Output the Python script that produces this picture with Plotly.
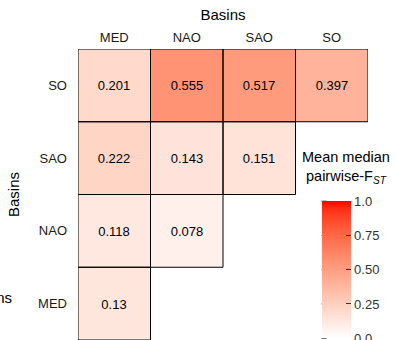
import plotly.graph_objects as go

basins = ["MED", "NAO", "SAO", "SO"]
row_MED = [0.13, None, None, None]
row_NAO = [0.118, 0.078, None, None]
row_SAO = [0.222, 0.143, 0.151, None]
row_SO = [0.201, 0.555, 0.517, 0.397]
z = [row_MED, row_NAO, row_SAO, row_SO]

cb_vals = [0, 0.25, 0.5, 0.75, 1.0]
cb_text = ["0.0", "0.25", "0.50", "0.75", "1.0"]


# Lab-space gradient white -> red (like ggplot's scale_fill_gradient)
def srgb_to_lin(c):
    c = c / 255
    return c / 12.92 if c <= 0.04045 else ((c + 0.055) / 1.055) ** 2.4


def lin_to_srgb(c):
    c = max(0.0, min(1.0, c))
    v = 12.92 * c if c <= 0.0031308 else 1.055 * c ** (1 / 2.4) - 0.055
    return round(v * 255)


def rgb_to_lab(rgb):
    r, g, b = [srgb_to_lin(c) for c in rgb]
    X = (0.4124 * r + 0.3576 * g + 0.1805 * b) / 0.95047
    Y = (0.2126 * r + 0.7152 * g + 0.0722 * b)
    Z = (0.0193 * r + 0.1192 * g + 0.9505 * b) / 1.08883
    f = lambda t: t ** (1 / 3) if t > 0.008856 else 7.787 * t + 16 / 116
    fx, fy, fz = f(X), f(Y), f(Z)
    return (116 * fy - 16, 500 * (fx - fy), 200 * (fy - fz))


def lab_to_rgb(lab):
    L, a, b = lab
    fy = (L + 16) / 116
    fx = fy + a / 500
    fz = fy - b / 200
    finv = lambda t: t ** 3 if t ** 3 > 0.008856 else (t - 16 / 116) / 7.787
    X, Y, Z = 0.95047 * finv(fx), finv(fy), 1.08883 * finv(fz)
    r = 3.2406 * X - 1.5372 * Y - 0.4986 * Z
    g = -0.9689 * X + 1.8758 * Y + 0.0415 * Z
    bb = 0.0557 * X - 0.2040 * Y + 1.0570 * Z
    return (lin_to_srgb(r), lin_to_srgb(g), lin_to_srgb(bb))


lab_w = rgb_to_lab((255, 255, 255))
lab_r = rgb_to_lab((255, 0, 0))
colorscale = []
n = 20
for i in range(n + 1):
    t = i / n
    lab = tuple(lab_w[k] + (lab_r[k] - lab_w[k]) * t for k in range(3))
    r, g, b = lab_to_rgb(lab)
    colorscale.append([t, f"rgb({r},{g},{b})"])

FONT = "Liberation Sans, Arial, sans-serif"

# layout geometry (pixels)
W, H = 396, 340
ML, MR, MT, MB = 78, 28, 49, 0
PW, PH = W - ML - MR, H - MT - MB
CB_X, CB_Y, CB_LEN, CB_THICK, TICKLEN = 0.84, 0.477, 137, 29, 5

fig = go.Figure()
fig.add_trace(go.Heatmap(
    x=basins, y=basins, z=z,
    zmin=0, zmax=1, colorscale=colorscale,
    texttemplate="%{z}", textfont=dict(family=FONT, size=13, color="black"),
    hoverongaps=False,
    colorbar=dict(
        x=CB_X, xanchor="left", xpad=0,
        y=CB_Y, yanchor="top", ypad=0,
        thickness=CB_THICK, len=CB_LEN, lenmode="pixels",
        outlinewidth=0,
        tickvals=cb_vals, ticktext=cb_text,
        ticks="inside", ticklen=TICKLEN, tickcolor="#333333", tickwidth=1,
        ticklabeloverflow="allow",
        tickfont=dict(family=FONT, size=13, color="#333333"),
    ),
))

# cell borders
for yi, row in enumerate(z):
    for xi, v in enumerate(row):
        if v is not None:
            fig.add_shape(type="rect", xref="x", yref="y",
                          x0=xi - 0.5, x1=xi + 0.5, y0=yi - 0.5, y1=yi + 0.5,
                          line=dict(color="black", width=1), fillcolor="rgba(0,0,0,0)")

# left-side colorbar ticks (ggplot style: ticks on both edges)
for v in cb_vals:
    yp = CB_Y - (1 - v) * CB_LEN / PH
    fig.add_shape(type="line", xref="paper", yref="paper",
                  x0=CB_X, x1=CB_X + TICKLEN / PW, y0=yp, y1=yp,
                  line=dict(color="#333333", width=1))

fig.add_annotation(text="Mean median<br>pairwise-F<sub><i>ST</i></sub>",
                   xref="paper", yref="paper", x=0.925, y=0.662,
                   xanchor="center", yanchor="top", align="center", showarrow=False,
                   font=dict(family=FONT, size=14.5, color="black"))
fig.add_annotation(text="Basins", xref="paper", yref="paper", x=-0.222, y=0.147,
                   xanchor="right", yanchor="middle", showarrow=False,
                   font=dict(family=FONT, size=15, color="black"))

fig.update_layout(
    width=W, height=H,
    margin=dict(l=ML, r=MR, t=MT, b=MB),
    paper_bgcolor="white", plot_bgcolor="white",
    font=dict(family=FONT, color="black"),
    xaxis=dict(side="top", range=[-0.5, 3.5], showgrid=False, zeroline=False,
               automargin=False,
               ticks="", tickfont=dict(size=13, color="#1a1a1a"),
               ticklabelstandoff=3,
               title=dict(text="Basins", font=dict(size=15), standoff=6)),
    yaxis=dict(range=[-0.5, 3.5], showgrid=False, zeroline=False,
               automargin=False,
               ticks="", tickfont=dict(size=13, color="#1a1a1a"),
               ticklabelstandoff=10,
               title=dict(text="Basins", font=dict(size=15), standoff=14)),
)

fig.write_html("out.html", config={"displayModeBar": False},
               post_script="document.body.style.margin='0';document.body.style.overflow='hidden';")
